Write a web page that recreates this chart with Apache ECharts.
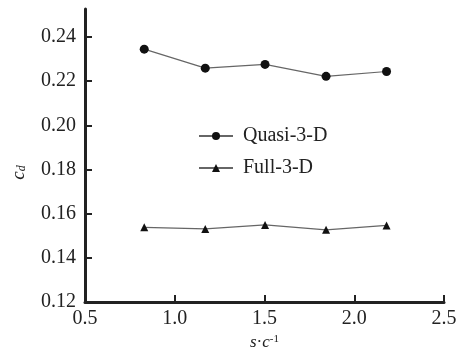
<!DOCTYPE html>
<html><head><meta charset="utf-8">
<script src="https://cdn.jsdelivr.net/npm/echarts@6/dist/echarts.min.js"></script>
<style>html,body{margin:0;padding:0;background:#fff}#c{width:465px;height:352px}</style>
</head><body><div id="c"></div>
<script>
const xQuasi = [0.83, 1.17, 1.503, 1.843, 2.18];
const yQuasi = [0.2345, 0.2259, 0.2276, 0.2222, 0.2244];
const xFull = [0.83, 1.17, 1.503, 1.843, 2.18];
const yFull = [0.1538, 0.1531, 0.1549, 0.1527, 0.1547];
const yTicks = [0.12, 0.14, 0.16, 0.18, 0.20, 0.22, 0.24];
const xTicks = [0.5, 1.0, 1.5, 2.0, 2.5];
const seriesNames = ['Quasi-3-D', 'Full-3-D'];

const font = '"Liberation Serif", "DejaVu Serif", serif';
const chart = echarts.init(document.getElementById('c'), null, {renderer: 'canvas'});
const axisLine = {show: true, lineStyle: {color: '#222', width: 3}};
chart.setOption({
  animation: false,
  backgroundColor: '#fff',
  grid: {left: 85, right: 21, top: 9, bottom: 50, containLabel: false, outerBoundsMode: 'none'},
  legend: {
    orient: 'vertical', left: 193, top: 121,
    itemWidth: 34, itemHeight: 10, itemGap: 12,
    textStyle: {fontFamily: font, fontSize: 20, color: '#222', padding: [0, 0, 0, 5]},
    data: seriesNames
  },
  xAxis: {
    type: 'value', min: 0.5, max: 2.5, interval: 0.5,
    axisLine: axisLine,
    axisTick: {show: true, inside: true, length: 7, lineStyle: {color: '#222', width: 2}},
    axisLabel: {fontFamily: font, fontSize: 20, color: '#222', margin: 7,
      formatter: v => v.toFixed(1)},
    splitLine: {show: false},
    name: '{i|s}{n|·}{i|c}{sup|-1}',
    nameLocation: 'middle', nameGap: 31,
    nameTextStyle: {fontFamily: font, fontSize: 17, color: '#222',
      rich: {i: {fontFamily: font, fontSize: 17, fontStyle: 'italic', color: '#222'},
             n: {fontFamily: font, fontSize: 17, color: '#222'},
             sup: {fontFamily: font, fontSize: 11, color: '#222', verticalAlign: 'top', padding: [0, 0, 6, 0]}}}
  },
  yAxis: {
    type: 'value', min: 0.12, max: 0.2527,
    axisLine: axisLine,
    axisTick: {show: true, inside: true, length: 7, lineStyle: {color: '#222', width: 2}, customValues: yTicks},
    axisLabel: {fontFamily: font, fontSize: 20, color: '#222', margin: 9, customValues: yTicks,
      formatter: v => v.toFixed(2)},
    splitLine: {show: false},
    name: '{i|c}{sub|d}',
    nameLocation: 'middle', nameGap: 57, nameRotate: 90,
    nameTextStyle: {fontFamily: font, fontSize: 18, color: '#222', padding: [0, 34, 0, 0],
      rich: {i: {fontFamily: font, fontSize: 19, fontStyle: 'italic', color: '#222'},
             sub: {fontFamily: font, fontSize: 12, fontStyle: 'italic', color: '#222', verticalAlign: 'bottom', padding: [6, 0, 0, 0]}}}
  },
  series: [
    {name: seriesNames[0], type: 'line', data: xQuasi.map((x, i) => [x, yQuasi[i]]),
     symbol: 'circle', symbolSize: 9, itemStyle: {color: '#111'},
     lineStyle: {color: '#666', width: 1.2}},
    {name: seriesNames[1], type: 'line', data: xFull.map((x, i) => [x, yFull[i]]),
     symbol: 'triangle', symbolSize: 8, itemStyle: {color: '#111'},
     lineStyle: {color: '#666', width: 1.2}}
  ]
});
</script></body></html>
